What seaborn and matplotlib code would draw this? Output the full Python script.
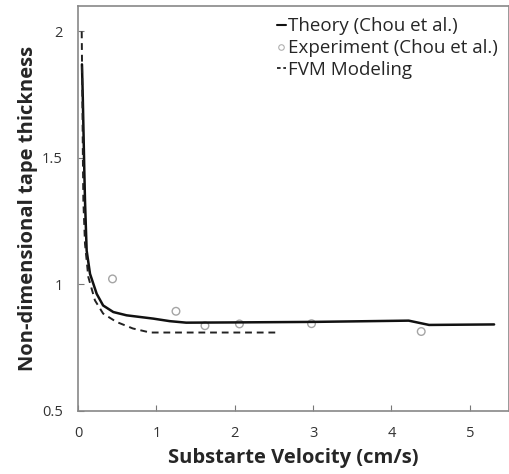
import matplotlib
matplotlib.use("Agg")
import matplotlib.pyplot as plt
import pandas as pd
import seaborn as sns
from matplotlib.lines import Line2D

# Theory (Chou et al.)
theory_v = [0.05, 0.06, 0.07, 0.08, 0.089, 0.11, 0.153, 0.238, 0.32, 0.45, 0.62, 0.96, 1.17,
            1.38, 2.0, 3.0, 4.22, 4.48, 5.31]
theory_h = [1.87, 1.75, 1.60, 1.45, 1.33, 1.134, 1.042, 0.963, 0.917, 0.891, 0.878, 0.865, 0.855,
            0.849, 0.850, 0.852, 0.857, 0.840, 0.842]

# Experiment (Chou et al.)
exp_v = [0.44, 1.25, 1.62, 2.06, 2.98, 4.38]
exp_h = [1.022, 0.894, 0.837, 0.844, 0.845, 0.814]

# FVM Modeling
fvm_v = [0.047, 0.055, 0.062, 0.068, 0.089, 0.131, 0.216, 0.32, 0.49, 0.70, 0.92, 1.5, 2.57]
fvm_h = [2.00, 1.75, 1.50, 1.33, 1.16, 1.03, 0.937, 0.885, 0.852, 0.826, 0.81, 0.81, 0.81]

sns.set_style("ticks")
plt.rcParams["font.family"] = ["Open Sans", "DejaVu Sans"]

fig = plt.figure(figsize=(5.1, 4.74), dpi=100)
ax = fig.add_axes([0.153, 0.133, 0.845, 0.854])

theory = pd.DataFrame({"v": theory_v, "h": theory_h})
exp = pd.DataFrame({"v": exp_v, "h": exp_h})
fvm = pd.DataFrame({"v": fvm_v, "h": fvm_h})

sns.lineplot(data=theory, x="v", y="h", color="#111111", lw=1.8, sort=False, ax=ax)
sns.lineplot(data=fvm, x="v", y="h", color="#222222", lw=1.4, ls=(0, (3.5, 2.5)), sort=False, ax=ax)
sns.scatterplot(data=exp, x="v", y="h", s=30, facecolor="none", edgecolor="#a5a5a5",
                linewidth=1.0, ax=ax)

ax.set_xlim(0, 5.5)
ax.set_ylim(0.5, 2.1)
ax.set_xticks([0, 1, 2, 3, 4, 5])
ax.set_yticks([0.5, 1, 1.5, 2])
ax.set_yticklabels(["0.5", "1", "1.5", "2"])
ax.tick_params(direction="in", length=4, color="#777777", labelsize=10.5, labelcolor="#333333", pad=11)
for sp in ax.spines.values():
    sp.set_color("#888888")
    sp.set_linewidth(1.2)

ax.set_xlabel("Substarte Velocity (cm/s)", fontsize=14.5, fontweight="bold", labelpad=5)
ax.set_ylabel("Non-dimensional tape thickness", fontsize=14.5, fontweight="bold", labelpad=3)

handles = [
    Line2D([], [], color="#111111", lw=1.5),
    Line2D([], [], ls="none", marker="o", ms=4, mfc="none", mec="#b0b0b0", mew=0.8),
    Line2D([], [], color="#222222", lw=1.3, ls=(0, (2, 1.5))),
]
ax.legend(handles, ["Theory (Chou et al.)", "Experiment (Chou et al.)", "FVM Modeling"],
          loc="upper right", bbox_to_anchor=(1.0, 1.0), frameon=False, fontsize=13.5,
          handlelength=0.5, handletextpad=0.1, labelspacing=0.2, borderaxespad=0.2)

fig.savefig("out.png", dpi=100)
